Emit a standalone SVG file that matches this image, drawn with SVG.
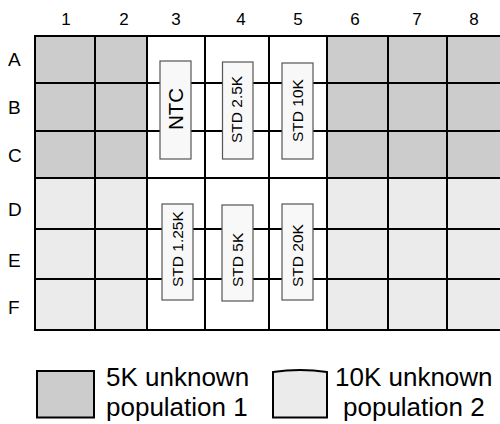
<svg xmlns="http://www.w3.org/2000/svg" width="500" height="424" viewBox="0 0 500 424">
<style>
text{font-family:"Liberation Sans",Arial,sans-serif;fill:#000}
.dark{fill:#cccccc}
.light{fill:#ebebeb}
.grid{stroke:#000;stroke-width:2;fill:none}
.std{fill:#f8f8f8;stroke:#555;stroke-width:1.2}
.lbl{font-size:17px;text-anchor:middle}
.row{font-size:19px}
.s{font-size:15.5px}
.leg{font-size:26px}
</style>
<rect width="500" height="424" fill="#fff"/>
<g id="plate">
<rect class="dark" x="35" y="36" width="112" height="142"/>
<rect class="dark" x="327" y="36" width="173" height="142"/>
<rect class="light" x="35" y="178" width="112" height="152"/>
<rect class="light" x="327" y="178" width="173" height="152"/>
<path class="grid" d="M35 36H500M35 83H500M35 131H500M35 178H500M35 229H500M35 279H500M34 330H500M35 35V331M95 36V330M147 36V330M205 36V330M269 36V330M327 36V330M388 36V330M447 36V330"/>
</g>
<g id="col-labels">
<text class="lbl" x="66" y="25">1</text>
<text class="lbl" x="124" y="25">2</text>
<text class="lbl" x="176" y="25">3</text>
<text class="lbl" x="241" y="25">4</text>
<text class="lbl" x="298" y="25">5</text>
<text class="lbl" x="355" y="25">6</text>
<text class="lbl" x="417" y="25">7</text>
<text class="lbl" x="474" y="25">8</text>
</g>
<g id="row-labels">
<text class="row" x="8" y="66">A</text>
<text class="row" x="8" y="114">B</text>
<text class="row" x="8" y="162">C</text>
<text class="row" x="8" y="216">D</text>
<text class="row" x="8" y="267">E</text>
<text class="row" x="8" y="314">F</text>
</g>
<g id="ntc">
<rect class="std" x="160" y="61" width="31" height="98"/>
<text transform="translate(183,109) rotate(-90)" font-size="20.5" text-anchor="middle">NTC</text>
</g>
<g id="std-2-5k">
<rect class="std" x="222.5" y="62" width="30.5" height="97"/>
<text class="s" transform="translate(242,143) rotate(-90)">STD 2.5K</text>
</g>
<g id="std-10k">
<rect class="std" x="282" y="63" width="31" height="96"/>
<text class="s" transform="translate(302.5,142) rotate(-90)">STD 10K</text>
</g>
<g id="std-1-25k">
<rect class="std" x="162" y="204" width="31" height="96"/>
<text class="s" transform="translate(182.5,287) rotate(-90)">STD 1.25K</text>
</g>
<g id="std-5k">
<rect class="std" x="222" y="205" width="31" height="96"/>
<text class="s" transform="translate(242.5,287) rotate(-90)">STD 5K</text>
</g>
<g id="std-20k">
<rect class="std" x="282" y="204" width="31" height="96"/>
<text class="s" transform="translate(302.5,287) rotate(-90)">STD 20K</text>
</g>
<g id="legend-5k">
<rect class="dark" x="37" y="371" width="57" height="46.5" stroke="#000" stroke-width="2"/>
<text class="leg" x="106" y="386">5K unknown</text>
<text class="leg" x="106" y="416">population 1</text>
</g>
<g id="legend-10k">
<path class="light" d="M273 372Q300 368 327 372V417.5H273Z" stroke="#000" stroke-width="2"/>
<text class="leg" x="335" y="386">10K unknown</text>
<text class="leg" x="343" y="416">population 2</text>
</g>
</svg>
